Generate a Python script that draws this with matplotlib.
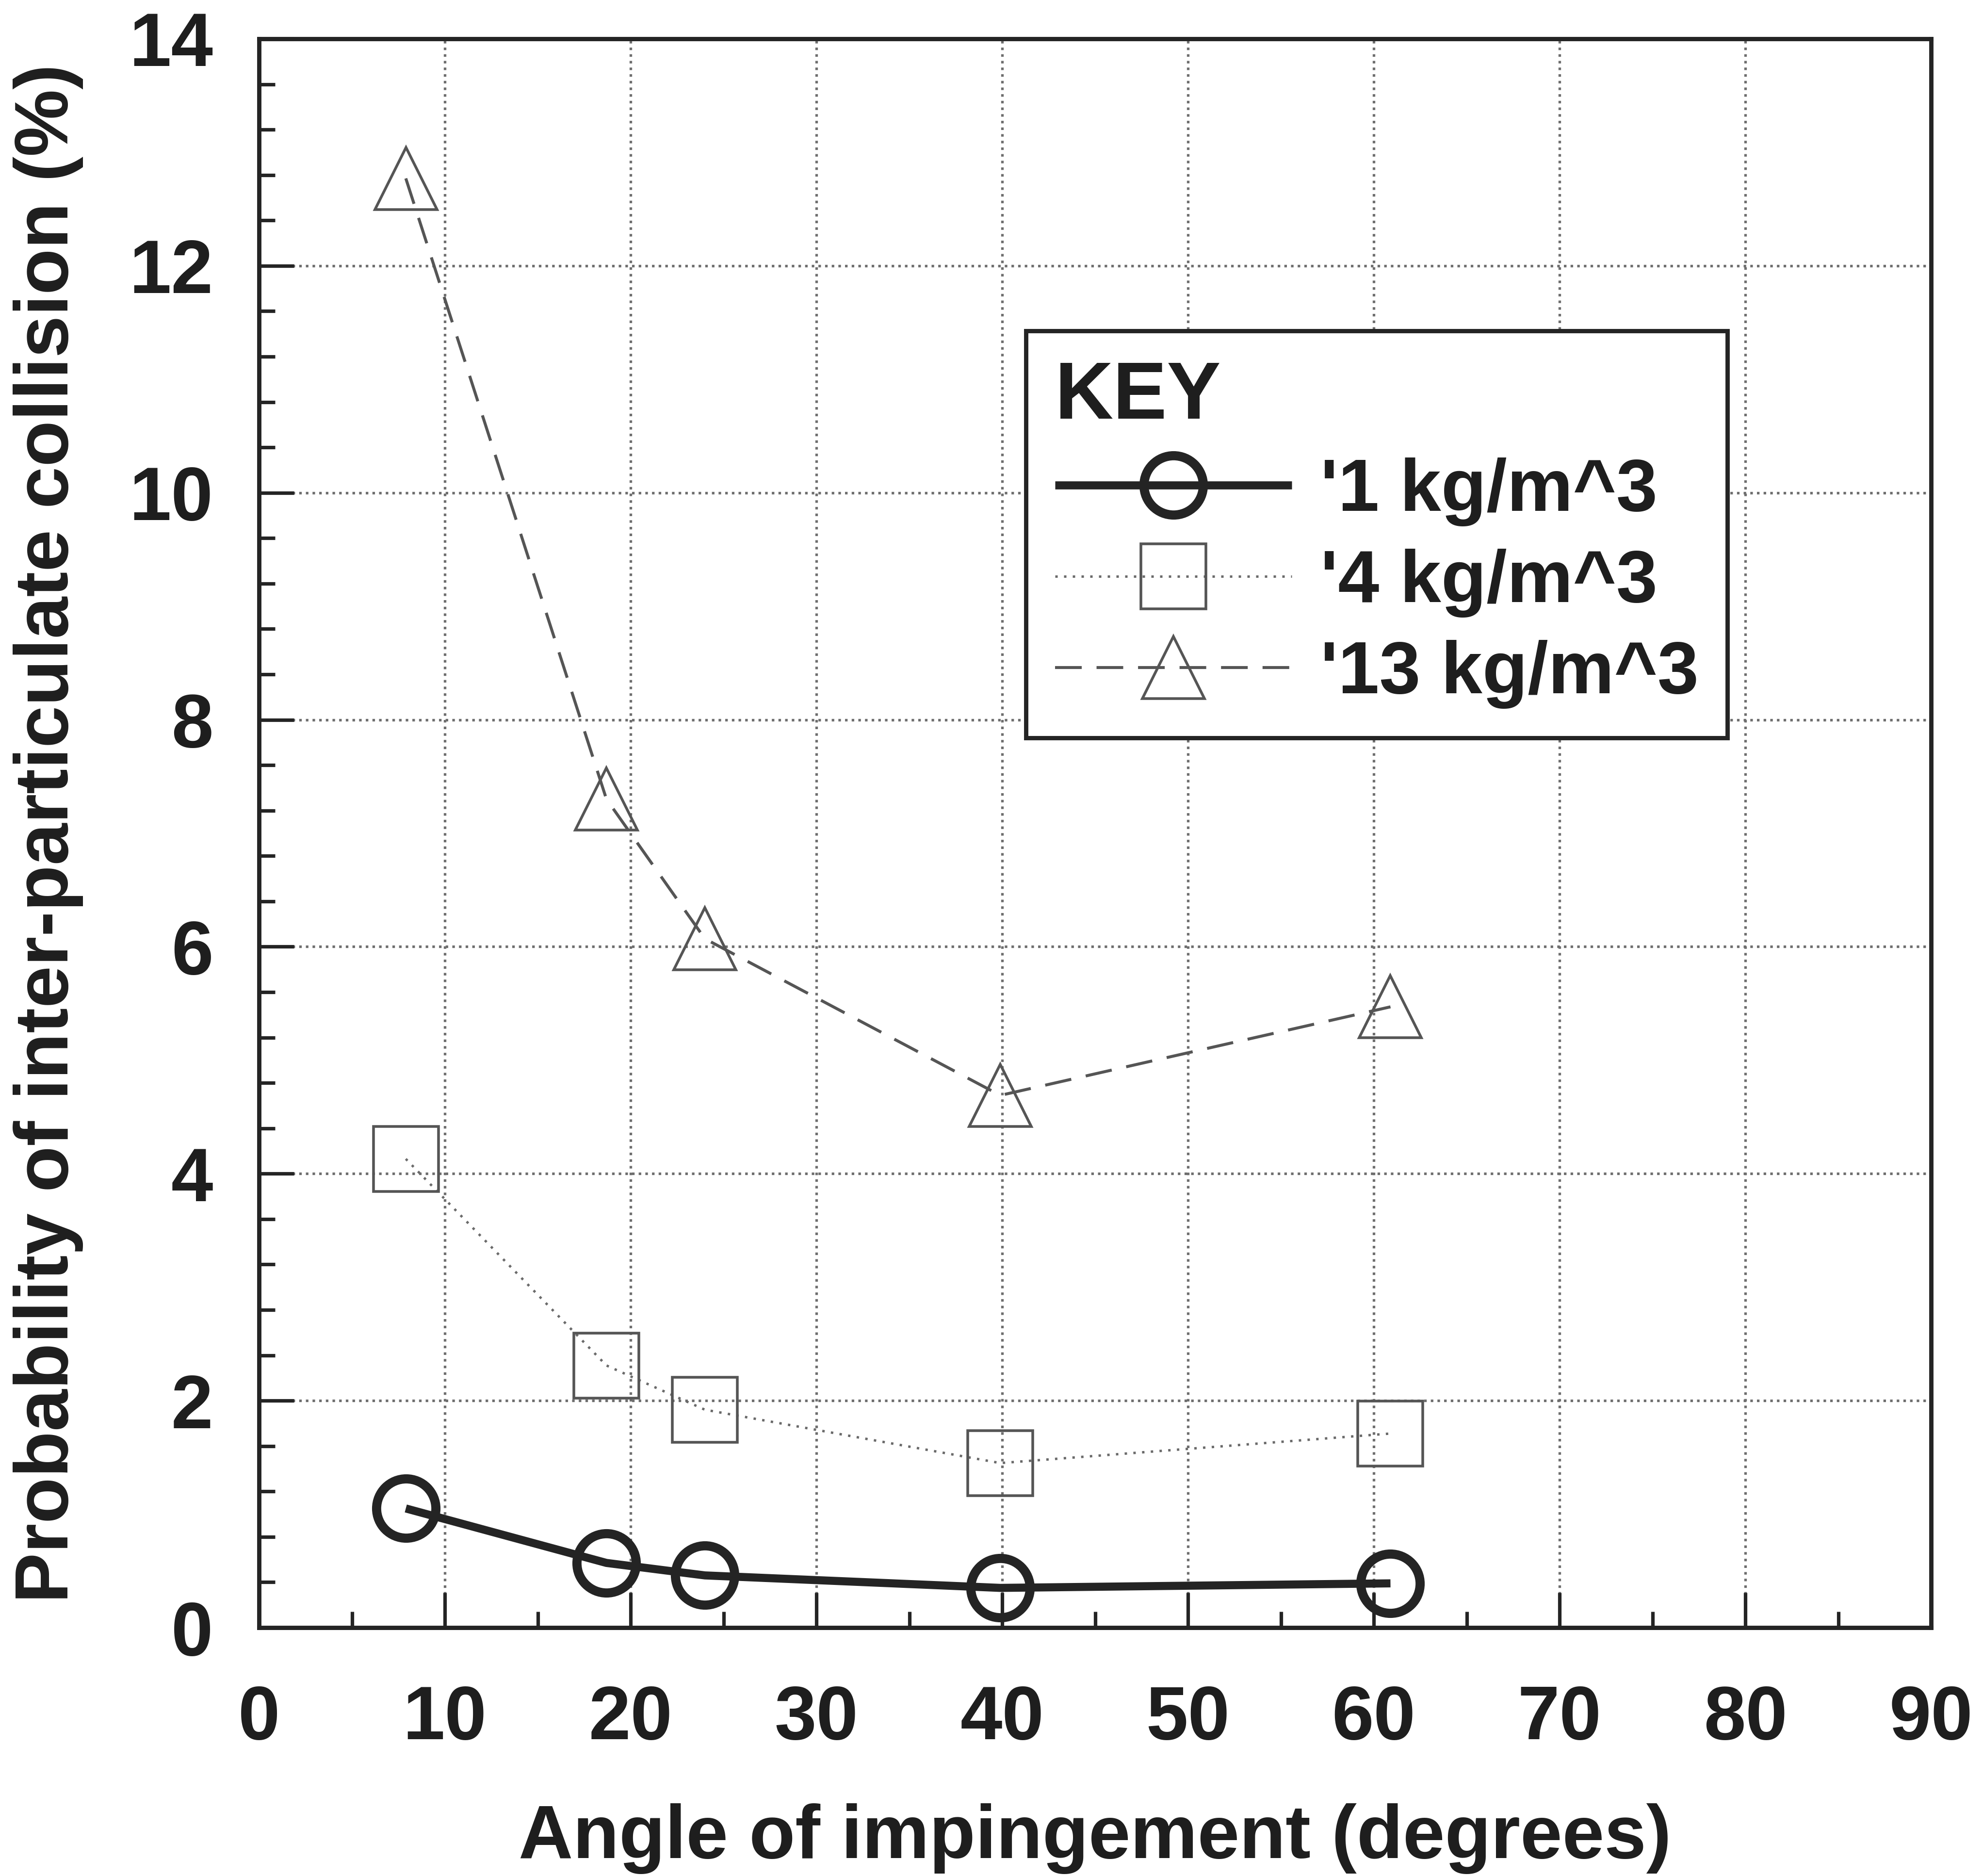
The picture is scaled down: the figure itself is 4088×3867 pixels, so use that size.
import matplotlib
matplotlib.use("Agg")
import matplotlib.pyplot as plt
from matplotlib.ticker import MultipleLocator

# Impingement angle (degrees) for each measurement
angle = [7.9, 18.7, 24.0, 39.9, 60.9]

# Probability of inter-particulate collision (%) for each particle concentration
prob_1 = [1.05, 0.57, 0.46, 0.35, 0.39]
prob_4 = [4.13, 2.31, 1.92, 1.45, 1.71]
prob_13 = [12.77, 7.30, 6.07, 4.69, 5.47]

series_labels = ["'1 kg/m^3", "'4 kg/m^3", "'13 kg/m^3"]

x_ticks = [0, 10, 20, 30, 40, 50, 60, 70, 80, 90]
y_ticks = [0, 2, 4, 6, 8, 10, 12, 14]

plt.rcParams['font.family'] = ['Liberation Sans', 'DejaVu Sans']
plt.rcParams['font.weight'] = 'bold'

DPI = 400
W, H = 4088, 3867
fig = plt.figure(figsize=(W / DPI, H / DPI), dpi=DPI, facecolor='white')

# axes box in pixels: left, right, top, bottom
L, R, T, B = 534, 3981, 80, 3355
ax = fig.add_axes([L / W, 1 - B / H, (R - L) / W, (B - T) / H])

ink = '#242424'
grey = '#555555'

ax.plot(angle, prob_1, color=ink, lw=3.0, marker='o', ms=22, mfc='none',
        mec=ink, mew=3.4, label=series_labels[0], zorder=4,
        solid_capstyle='butt')
ax.plot(angle, prob_4, color='#6a6a6a', lw=0.9, ls=(0, (1, 2.6)),
        marker='s', ms=24, mfc='none', mec=grey, mew=1.0,
        label=series_labels[1], zorder=3)
ax.plot(angle, prob_13, color=grey, lw=1.1, ls=(0, (9, 5)),
        marker='^', ms=23, mfc='none', mec=grey, mew=1.0,
        label=series_labels[2], zorder=3)

ax.set_xlim(x_ticks[0], x_ticks[-1])
ax.set_ylim(y_ticks[0], y_ticks[-1])
ax.set_xticks(x_ticks)
ax.set_yticks(y_ticks)
ax.xaxis.set_minor_locator(MultipleLocator(5))
ax.yaxis.set_minor_locator(MultipleLocator(0.4))

ax.grid(True, which='major', color='#6e6e6e', lw=0.95, ls=(0, (1, 1.6)))
ax.set_axisbelow(True)

for sp in ax.spines.values():
    sp.set_linewidth(1.6)
    sp.set_color(ink)

ax.tick_params(which='both', direction='in', top=False, right=False,
               color=ink, width=1.3)
ax.tick_params(which='major', length=13, labelsize=28, labelcolor='#1e1e1e')
ax.tick_params(which='minor', length=6)
ax.tick_params(axis='x', which='major', pad=21)
ax.tick_params(axis='y', which='major', pad=17)

ax.set_xlabel('Angle of impingement (degrees)', fontsize=28,
              fontweight='bold', color='#1e1e1e', labelpad=18)
ax.set_ylabel('Probability of inter-particulate collision (%)', fontsize=28,
              fontweight='bold', color='#1e1e1e', labelpad=17)

leg = ax.legend(loc='upper left',
                bbox_to_anchor=((2115 - L) / (R - L), (B - 682) / (B - T)),
                borderaxespad=0, title='KEY',
                title_fontproperties={'size': 30, 'weight': 'bold'},
                alignment='left', prop={'size': 27.5, 'weight': 'bold'},
                handlelength=3.2, handletextpad=0.38, borderpad=0.39,
                labelspacing=0.30, frameon=True, fancybox=False,
                framealpha=1, edgecolor=ink, numpoints=1)
leg.get_frame().set_linewidth(1.6)
for t in leg.get_texts():
    t.set_color('#1e1e1e')
leg.get_title().set_color('#1e1e1e')

fig.savefig('out.png', dpi=DPI, facecolor='white')
